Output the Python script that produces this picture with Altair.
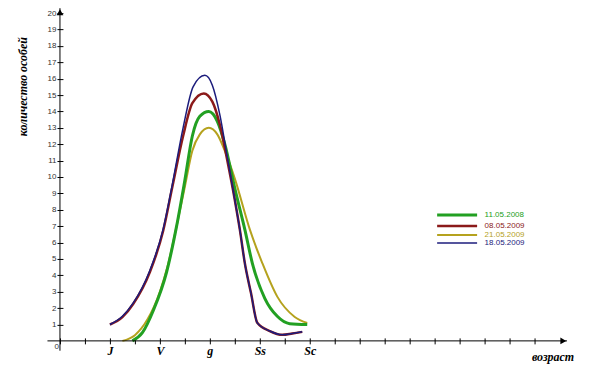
import altair as alt
import pandas as pd

# ---- data ----
series_names = ["11.05.2008", "08.05.2009", "21.05.2009", "18.05.2009"]
series_colors = ["#22a022", "#8b1a1a", "#b5a21e", "#1c1c7c"]
series_widths = [3.0, 1.5, 1.5, 1.5]
draw_order = [2, 0, 1, 3]  # olive, green, red, blue (blue on top)

green_x = [2.9, 3.3, 3.75, 4.27, 4.67, 5.0, 5.3, 5.6, 5.96, 6.3, 6.6, 7.0, 7.4, 7.7, 8.2, 8.7, 9.2, 9.9]
green_y = [0.0, 0.5, 1.9, 4.2, 7.0, 9.8, 12.5, 13.7, 14.0, 13.4, 12.0, 9.3, 6.8, 4.75, 2.6, 1.5, 1.05, 1.0]

red_x = [2.0, 2.5, 2.93, 3.6, 4.13, 4.5, 4.93, 5.3, 5.76, 6.1, 6.4, 6.7, 7.0, 7.2, 7.4, 7.65, 7.9, 8.4, 8.9, 9.3, 9.7]
red_y = [1.0, 1.45, 2.25, 4.2, 6.7, 9.4, 12.5, 14.5, 15.1, 14.6, 13.2, 11.0, 8.6, 6.8, 4.75, 2.9, 1.1, 0.6, 0.37, 0.45, 0.55]

olive_x = [2.5, 3.0, 3.5, 4.0, 4.3, 4.67, 5.0, 5.3, 5.6, 5.96, 6.3, 6.6, 7.0, 7.6, 8.1, 8.7, 9.4, 9.9]
olive_y = [0.0, 0.35, 1.3, 3.0, 4.5, 7.0, 9.4, 11.6, 12.6, 13.0, 12.6, 11.6, 9.9, 6.8, 4.75, 2.7, 1.46, 1.1]

blue_x = [2.0, 2.5, 2.93, 3.6, 4.13, 4.48, 4.93, 5.33, 5.8, 6.1, 6.4, 6.7, 7.0, 7.2, 7.4, 7.65, 7.9, 8.4, 8.9, 9.3, 9.7]
blue_y = [1.0, 1.5, 2.3, 4.3, 6.8, 9.4, 13.0, 15.5, 16.2, 15.6, 13.8, 11.2, 8.6, 6.8, 4.75, 2.9, 1.1, 0.6, 0.37, 0.45, 0.55]

age_values = [2, 4, 6, 8, 10]
age_labels = ["J", "V", "g", "Ss", "Sc"]
x_tick_values = list(range(0, 20))
y_tick_values = list(range(1, 21))

X_MAX = 20.3
Y_MAX = 20.3

# ---- build tables ----
xs = [green_x, red_x, olive_x, blue_x]
ys = [green_y, red_y, olive_y, blue_y]
rows = []
for rank, i in enumerate(draw_order):
    for k, (a, b) in enumerate(zip(xs[i], ys[i])):
        rows.append({"x": a, "y": b, "series": series_names[i], "layer": rank, "k": k})
df = pd.DataFrame(rows)

label_expr = "".join(
    f"datum.value == {v} ? '{l}' : " for v, l in zip(age_values, age_labels)
) + "''"
color_expr = "".join(
    f"datum.label == '{n}' ? '{c}' : " for n, c in zip(series_names, series_colors)
) + "'black'"
width_expr = "".join(
    f"datum.label == '{n}' ? {w} : " for n, w in zip(series_names, series_widths)
) + "1.5"

xscale = alt.Scale(domain=[0, X_MAX], nice=False, zero=False)
yscale = alt.Scale(domain=[0, Y_MAX], nice=False, zero=False)

x_axis = alt.Axis(
    values=x_tick_values, labelExpr=label_expr, domain=False, grid=False,
    tickSize=6, offset=-3, tickColor="black", labelPadding=2,
    labelFont="Liberation Serif", labelFontSize=12, labelFontStyle="italic",
    labelFontWeight="bold", labelColor="black", labelFlush=False, labelOverlap=False,
    title="возраст", titleFont="Liberation Serif", titleFontSize=12,
    titleFontStyle="italic", titleFontWeight="bold", titleColor="black",
    titleX=493, titleY=19, titleBaseline="middle", titleAlign="center",
)
y_axis = alt.Axis(
    values=y_tick_values, domain=False, grid=False,
    tickSize=6, offset=-3, tickColor="black", labelPadding=1,
    labelFont="Liberation Sans", labelFontSize=8, labelColor="#333333",
    labelOverlap=False, labelFlush=False,
    title="количество особей", titleFont="Liberation Serif", titleFontSize=12,
    titleFontStyle="italic", titleFontWeight="bold", titleColor="black",
    titleX=-40, titleY=78, titleAngle=270, titleBaseline="middle", titleAlign="center",
)

lines = alt.Chart(df).mark_line(interpolate="monotone").encode(
    x=alt.X("x:Q", scale=xscale, axis=x_axis),
    y=alt.Y("y:Q", scale=yscale, axis=y_axis),
    color=alt.Color(
        "series:N",
        scale=alt.Scale(domain=series_names, range=series_colors),
        legend=alt.Legend(
            title=None, orient="none", legendX=393.5, legendY=203, padding=0,
            symbolType="M-8,0L8,0", symbolSize=25,
            symbolStrokeWidth=alt.ExprRef(width_expr),
            labelColor=alt.ExprRef(color_expr),
            labelFont="Liberation Sans", labelFontSize=8, rowPadding=0,
            labelOffset=23.5, labelLimit=100,
        ),
    ),
    strokeWidth=alt.StrokeWidth(
        "series:N", scale=alt.Scale(domain=series_names, range=series_widths), legend=None
    ),
    detail="layer:N",
    order="k:Q",
)

# axis lines (crossing at origin) and arrow heads
axis_df = pd.DataFrame([
    {"x": -0.5, "x2": X_MAX, "y": 0.0, "y2": 0.0},
    {"x": 0.0, "x2": 0.0, "y": -0.6, "y2": Y_MAX},
])
axis_lines = alt.Chart(axis_df).mark_rule(color="black", strokeWidth=1).encode(
    x=alt.X("x:Q", scale=xscale, axis=x_axis), x2="x2:Q",
    y=alt.Y("y:Q", scale=yscale, axis=y_axis), y2="y2:Q",
)
arrow_df = pd.DataFrame([
    {"x": X_MAX - 0.15, "y": 0.0, "shape": "triangle-right"},
    {"x": 0.0, "y": Y_MAX - 0.25, "shape": "triangle-up"},
])
arrows = alt.Chart(arrow_df).mark_point(filled=True, color="black", size=45, opacity=1).encode(
    x=alt.X("x:Q", scale=xscale, axis=x_axis), y=alt.Y("y:Q", scale=yscale, axis=y_axis),
    shape=alt.Shape("shape:N", scale=None),
)
zero_df = pd.DataFrame([{"x": 0.0, "y": 0.0, "t": "0"}])
zero_label = alt.Chart(zero_df).mark_text(
    align="right", baseline="middle", dx=-1, dy=6, font="Liberation Sans", fontSize=8, color="#333333"
).encode(
    x=alt.X("x:Q", scale=xscale, axis=x_axis), y=alt.Y("y:Q", scale=yscale, axis=y_axis), text="t:N"
)

chart = alt.layer(lines, axis_lines, arrows, zero_label).properties(
    width=507.5, height=333,
    autosize=alt.AutoSizeParams(type="none"),
    padding={"left": 52, "top": 0, "right": 30, "bottom": 40},
).configure(background="white").configure_view(stroke=None)

chart.save("out.html", embed_options={"renderer": "svg", "actions": False})
